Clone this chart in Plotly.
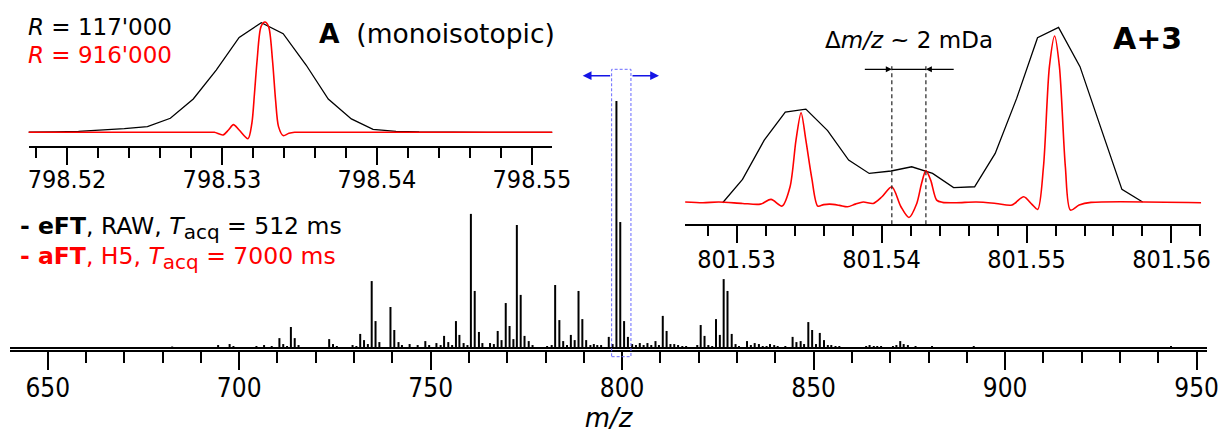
import plotly.graph_objects as go

# ---------------- data ----------------
# full-range stick spectrum (m/z, relative intensity %)
peak_mz = [
    651.5, 665.5, 672.5, 682.5, 688.5, 691.5,
    694.5, 697.5, 698.5, 704.5, 706.5, 708.5,
    710.5, 711.5, 712.5, 713.5, 714.5, 715.5,
    723.5, 724.5, 725.5, 729.6, 730.6, 731.6, 732.6, 733.6,
    734.6, 735.6, 736.6, 739.5, 740.5, 741.6, 742.5, 744.5, 746.6,
    748.6, 749.6, 751.5, 752.6, 753.5, 754.6, 755.6,
    756.6, 757.5, 758.6, 759.6,
    760.5, 761.5, 762.6, 763.5, 765.5, 766.5,
    767.5, 768.5, 769.6, 770.6, 771.6,
    772.5, 773.5, 774.5, 775.6, 776.6,
    780.4, 781.6, 782.5, 783.6, 784.6, 785.6,
    786.6, 787.6, 788.6, 789.6, 790.6, 791.7, 792.6,
    793.5, 794.5, 796.5, 797.5,
    798.5, 799.5, 800.5, 801.5, 802.6, 803.6, 804.6, 805.6, 806.6, 807.6, 808.7, 809.6,
    810.6, 811.6, 812.6, 813.6, 814.6, 815.7, 816.7, 817.6, 818.6, 819.6,
    820.5, 821.5, 822.5, 823.5, 824.5, 825.5, 826.5, 827.5, 828.6, 829.6, 830.5,
    832.6, 833.6, 834.6, 835.7, 836.7, 837.7, 838.6, 839.7, 840.6, 842.6,
    844.5, 845.5, 846.6, 847.5, 848.6, 849.6, 850.6, 851.6, 852.7, 853.7, 854.6, 855.7, 856.7, 857.6, 859.7,
    863.7, 864.6, 865.7, 866.6, 867.6, 870.7, 871.6, 872.6, 873.5, 874.6, 876.6, 880.9, 882.0, 891.8, 895.4,
    902.6, 910.6, 917.6, 925.6, 930.6, 937.6, 943.3,
]
peak_int = [
    0.4, 0.4, 0.4, 0.6, 0.4, 0.4,
    1.2, 1.6, 0.8, 0.8, 1.2, 0.8,
    4.0, 1.6, 0.8, 8.5, 4.0, 1.2,
    3.6, 1.6, 0.8, 1.2, 0.8, 5.7, 3.2, 1.6,
    27.1, 10.9, 2.4, 16.6, 7.3, 2.4, 1.2, 1.6, 1.2,
    2.8, 1.2, 2.0, 1.2, 4.9, 2.4, 1.2,
    10.9, 5.3, 2.0, 1.2,
    54.3, 23.1, 6.5, 2.0, 2.0, 1.6,
    6.9, 3.2, 18.2, 8.9, 3.6,
    49.8, 21.5, 4.9, 2.8, 1.2,
    0.8, 1.2, 25.5, 11.3, 2.8, 1.2,
    5.3, 3.2, 23.1, 11.7, 3.2, 1.2, 1.6,
    1.2, 1.2, 4.5, 1.6,
    100.0, 51.0, 10.9, 4.5, 1.6, 1.2, 2.0, 1.2, 2.0, 1.2, 2.8, 1.2,
    13.0, 6.9, 1.6, 1.6, 1.2, 0.8, 0.8, 0.4, 0.4, 1.2,
    9.3, 4.9, 1.2, 0.8, 11.7, 5.3, 27.9, 23.1, 5.7, 1.6, 0.8,
    2.8, 1.2, 2.0, 1.6, 0.8, 0.8, 1.6, 1.2, 0.8, 0.8,
    4.5, 2.4, 2.8, 1.6, 10.5, 7.3, 1.6, 6.1, 3.2, 1.2, 1.2, 0.8, 0.8, 0.4, 0.4,
    0.8, 1.2, 0.8, 0.8, 0.8, 0.8, 1.2, 2.8, 1.6, 1.2, 0.8, 0.8, 0.4, 0.8, 0.4,
    0.4, 0.4, 0.4, 0.4, 0.4, 0.4, 0.8,
]

# inset A (monoisotopic): eFT profile (black) and aFT profile (red)
efta_mz = [798.51630, 798.51778, 798.51926, 798.52074, 798.52222, 798.52370, 798.52519,
           798.52667, 798.52815, 798.52963, 798.53111, 798.53254, 798.53395, 798.53543,
           798.53686, 798.53835, 798.53975, 798.54123, 798.54272, 798.54420, 798.54568,
           798.54716, 798.54864, 798.55012, 798.55160]
efta_int = [0.0, 0.0, 0.003, 0.009, 0.018, 0.033, 0.052,
            0.128, 0.304, 0.568, 0.866, 1.0, 0.90, 0.614,
            0.304, 0.122, 0.027, 0.009, 0.003, 0.0, 0.0,
            0.0, 0.0, 0.0, 0.0]
afta_mz = [798.51700, 798.52500, 798.52900, 798.52951, 798.53007, 798.53042, 798.53074,
           798.53111, 798.53168, 798.53193, 798.53210, 798.53227, 798.53252, 798.53277,
           798.53301, 798.53326, 798.53346, 798.53365, 798.53395, 798.53432, 798.53469,
           798.53550, 798.54200, 798.55200]
afta_int = [0.0, 0.0, 0.0, 0.0, -0.024, 0.021, 0.070,
            0.021, -0.058, 0.082, 0.356, 0.66, 0.964, 1.006,
            0.964, 0.66, 0.295, 0.052, -0.030, -0.009, 0.0,
            0.0, 0.0, 0.0]

# inset A+3: eFT profile (black) and aFT profile (red)
eft3_mz = [801.52904, 801.53041, 801.53191, 801.53336, 801.53478, 801.53628, 801.53773,
           801.53915, 801.54066, 801.54208, 801.54352, 801.54497, 801.54642, 801.54784,
           801.54932, 801.55076, 801.55221, 801.55369, 801.55514, 801.55658, 801.55801]
eft3_int = [0.0, 0.133, 0.357, 0.517, 0.534, 0.411, 0.243,
            0.167, 0.181, 0.205, 0.167, 0.086, 0.091, 0.281,
            0.595, 0.941, 1.0, 0.776, 0.424, 0.076, 0.004]
aft3_mz = [801.52645, 801.52768, 801.52877, 801.53041, 801.53164, 801.53238, 801.53314,
           801.53369, 801.53410, 801.53445, 801.53478, 801.53519, 801.53560, 801.53601,
           801.53642, 801.53710, 801.53765, 801.53820, 801.53874, 801.53943, 801.54003,
           801.54071, 801.54134, 801.54189, 801.54243, 801.54276, 801.54306, 801.54339,
           801.54380, 801.54421, 801.54516, 801.54653, 801.54790, 801.54899, 801.54981,
           801.55036, 801.55077, 801.55117, 801.55158, 801.55194, 801.55227, 801.55268,
           801.55303, 801.55363, 801.55445, 801.56205]
aft3_int = [0.004, 0.0, 0.004, -0.004, -0.008, 0.019, -0.019,
            0.091, 0.357, 0.513, 0.357, 0.139, -0.019, -0.011,
            -0.008, -0.015, -0.023, -0.008, 0.004, -0.004, 0.034,
            0.091, -0.023, -0.084, -0.004, 0.110, 0.183, 0.129,
            0.015, 0.002, 0.0, 0.004, -0.004, -0.013, 0.034,
            -0.008, -0.038, 0.205, 0.776, 0.951, 0.776, 0.205,
            -0.042, -0.013, 0.002, 0.0]

# the two resolved fine-structure peaks marked in the A+3 inset
split_peaks = [801.54071, 801.54306]

# axis ranges
main_range = [640.16, 952.7]
insa_range = [798.51753, 798.55131]
ins3_range = [801.52645, 801.56205]

# ---------------- layout helpers ----------------
W, H = 1221, 433
TICKFONT = "DejaVu Sans Condensed, DejaVu Sans, sans-serif"
FONT = "DejaVu Sans, Verdana, sans-serif"
RED = "#ff0000"
BLUE = "#1414e6"


def fx(px):
    return px / W


def fy(py):
    return 1 - py / H


def main_xpaper(mz):
    x0, x1 = 10, 1207
    return fx(x0 + (mz - main_range[0]) / (main_range[1] - main_range[0]) * (x1 - x0))


fig = go.Figure()

# main spectrum: baseline plus sticks
fig.add_trace(go.Scatter(x=main_range, y=[0, 0], mode="lines",
                         line=dict(color="black", width=2), xaxis="x", yaxis="y",
                         hoverinfo="skip"))
sx, sy = [], []
for m, h in zip(peak_mz, peak_int):
    sx += [m, m, None]
    sy += [0, h, None]
fig.add_trace(go.Scatter(x=sx, y=sy, mode="lines", line=dict(color="black", width=2),
                         xaxis="x", yaxis="y", hoverinfo="skip"))

# inset A
fig.add_trace(go.Scatter(x=efta_mz, y=efta_int, mode="lines",
                         line=dict(color="black", width=1.3), xaxis="x2", yaxis="y2"))
fig.add_trace(go.Scatter(x=afta_mz, y=afta_int, mode="lines",
                         line=dict(color=RED, width=1.6, shape="spline", smoothing=0.8),
                         xaxis="x2", yaxis="y2"))

# inset A+3
fig.add_trace(go.Scatter(x=eft3_mz, y=eft3_int, mode="lines",
                         line=dict(color="black", width=1.3), xaxis="x3", yaxis="y3"))
fig.add_trace(go.Scatter(x=aft3_mz, y=aft3_int, mode="lines",
                         line=dict(color=RED, width=1.6, shape="spline", smoothing=0.8),
                         xaxis="x3", yaxis="y3"))

tickfont = dict(family=TICKFONT, size=25, color="black")
inset_axis = dict(showline=True, linewidth=2, linecolor="black", ticks="outside",
                  ticklen=17, tickwidth=1.5, tickcolor="black", dtick=0.01,
                  tickformat=".2f", showgrid=False, zeroline=False,
                  tickfont=tickfont, automargin=False)

fig.update_layout(
    width=W, height=H,
    margin=dict(l=0, r=0, t=0, b=0),
    paper_bgcolor="white", plot_bgcolor="rgba(0,0,0,0)",
    showlegend=False,
    font=dict(family=FONT, color="black"),
    xaxis=dict(domain=[fx(10), fx(1207)], range=main_range, anchor="y",
               showline=True, linewidth=2, linecolor="black",
               ticks="outside", ticklen=18, tickwidth=2, tickcolor="black",
               tick0=650, dtick=50, showgrid=False, zeroline=False,
               tickfont=dict(family=TICKFONT, size=26, color="black"),
               ticklabelstandoff=-4,
               minor=dict(dtick=10, ticks="outside", ticklen=11, tickwidth=2,
                          tickcolor="black", showgrid=False),
               title=dict(text="<i>m/z</i>", font=dict(family=FONT, size=26, color="black"),
                          standoff=23),
               automargin=False),
    yaxis=dict(domain=[fy(350), 1], range=[-0.81, 140.9], visible=False, anchor="x"),
    xaxis2=dict(domain=[fx(28.7), fx(552.2)], range=insa_range, anchor="y2", tick0=798.52,
                ticklabelstandoff=-7,
                minor=dict(dtick=0.002, tick0=798.52, ticks="outside", ticklen=10,
                           tickwidth=1.5, tickcolor="black", showgrid=False),
                **inset_axis),
    yaxis2=dict(domain=[fy(145.7), 1], range=[-0.122, 1.207], visible=False, anchor="x2"),
    xaxis3=dict(domain=[fx(685.1), fx(1201.2)], range=ins3_range, anchor="y3", tick0=801.53,
                ticklabelstandoff=-5,
                minor=dict(dtick=0.002, tick0=801.53, ticks="outside", ticklen=10,
                           tickwidth=1.5, tickcolor="black", showgrid=False),
                **inset_axis),
    yaxis3=dict(domain=[fy(224.3), 1], range=[-0.123, 1.156], visible=False, anchor="x3"),
)

shapes = []
# highlighted region around the A cluster in the full spectrum
shapes.append(dict(type="rect", xref="paper", yref="paper",
                   x0=main_xpaper(797.25), x1=main_xpaper(802.29),
                   y0=fy(356.7), y1=fy(69.3),
                   line=dict(color="#6a6aff", width=1, dash="3px,2px")))
# dashed markers on the two fine-structure peaks of A+3
for m in split_peaks:
    shapes.append(dict(type="line", xref="x3", yref="y3", x0=m, x1=m, y0=-0.123, y1=0.795,
                       line=dict(color="#222222", width=1.2, dash="4px,3px")))
shapes.append(dict(type="line", xref="x3", yref="y3", x0=split_peaks[0], x1=split_peaks[1],
                   y0=0.7605, y1=0.7605, line=dict(color="black", width=1.2)))
fig.update_layout(shapes=shapes)

ann = []


def text(x, y, s, size, color="black", xanchor="left"):
    ann.append(dict(x=fx(x), y=fy(y), xref="paper", yref="paper", text=s, showarrow=False,
                    xanchor=xanchor, yanchor="middle",
                    font=dict(family=FONT, size=size, color=color)))


SUB = "<sub><span style='font-size:20px'>acq</span></sub>"
text(26, 27, "<i>R</i> = 117'000", 23)
text(26, 55, "<i>R</i> = 916'000", 23, RED)
text(317, 33, "<b>A</b>\u00a0\u00a0(monoisotopic)", 26.5)
text(18, 228, "<b>- eFT</b>, RAW, <i>T</i>" + SUB + " = 512 ms", 23.5)
text(18, 258, "<b>- aFT</b>, H5, <i>T</i>" + SUB + " = 7000 ms", 23.5, RED)
text(909, 40, "\u0394<i>m/z</i> ~ 2 mDa", 23, xanchor="center")
text(1147.5, 39, "<b>A+3</b>", 30, xanchor="center")

# blue arrows pointing from the highlighted region to the insets
for head, tail in [(582.7, 611.7), (659.0, 631.0)]:
    ann.append(dict(x=fx(head), y=fy(75.7), xref="paper", yref="paper", text="",
                    showarrow=True, ax=tail - head, ay=0, axref="pixel", ayref="pixel",
                    arrowhead=2, arrowsize=1.1, arrowwidth=1.6, arrowcolor=BLUE, standoff=0))
# black arrows marking the peak separation
for m, off in [(split_peaks[0], -28.5), (split_peaks[1], 29.3)]:
    ann.append(dict(x=m, y=0.7605, xref="x3", yref="y3", text="", showarrow=True,
                    ax=off, ay=0, axref="pixel", ayref="pixel",
                    arrowhead=2, arrowsize=1.0, arrowwidth=1.2, arrowcolor="black",
                    standoff=0))
fig.update_layout(annotations=ann)

fig.write_html("out.html")
